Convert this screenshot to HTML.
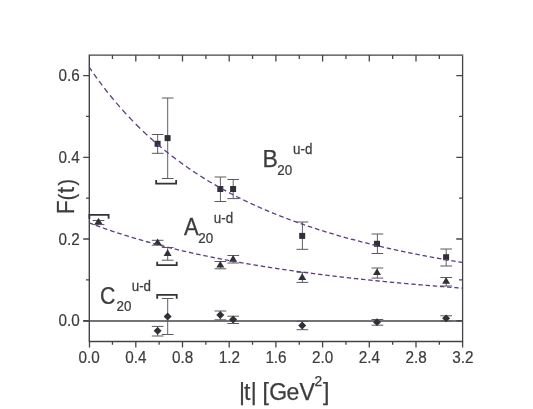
<!DOCTYPE html>
<html><head><meta charset="utf-8"><title>F(t)</title>
<style>html,body{margin:0;padding:0;background:#fff;}svg{display:block;will-change:transform;}text{font-family:"Liberation Sans",sans-serif;stroke:#3c3c3c;stroke-width:0.25px;}text.tl{stroke-width:0.2px;}</style>
</head><body>
<svg width="533" height="409" viewBox="0 0 533 409">
<rect x="0" y="0" width="533" height="409" fill="#ffffff"/>
<line x1="83.20" y1="320.96" x2="462.60" y2="320.96" stroke="#45454b" stroke-width="1.6"/>
<path d="M89.30 342.10V55.15H463.25" fill="none" stroke="#43434a" stroke-width="1.4" stroke-linejoin="miter"/>
<path d="M462.60 55.85V341.50H90.00" fill="none" stroke="#43434a" stroke-width="1.3" stroke-linejoin="miter"/>
<path d="M89.50 341.50V347.50M112.45 341.50V344.80M112.45 55.00V58.90M135.80 341.50V347.50M135.80 55.00V61.50M159.15 341.50V344.80M159.15 55.00V58.90M182.50 341.50V347.50M182.50 55.00V61.50M205.85 341.50V344.80M205.85 55.00V58.90M229.20 341.50V347.50M229.20 55.00V61.50M252.55 341.50V344.80M252.55 55.00V58.90M275.90 341.50V347.50M275.90 55.00V61.50M299.25 341.50V344.80M299.25 55.00V58.90M322.60 341.50V347.50M322.60 55.00V61.50M345.95 341.50V344.80M345.95 55.00V58.90M369.30 341.50V347.50M369.30 55.00V61.50M392.65 341.50V344.80M392.65 55.00V58.90M416.00 341.50V347.50M416.00 55.00V61.50M439.35 341.50V344.80M439.35 55.00V58.90M462.60 341.50V347.50M89.50 320.76H83.20M462.60 320.76H456.30M89.50 279.89H86.00M462.60 279.89H459.10M89.50 239.02H83.20M462.60 239.02H456.30M89.50 198.15H86.00M462.60 198.15H459.10M89.50 157.28H83.20M462.60 157.28H456.30M89.50 116.41H86.00M462.60 116.41H459.10M89.50 75.54H83.20M462.60 75.54H456.30" fill="none" stroke="#45454b" stroke-width="1.3"/>
<text class="tl" transform="translate(89.20 363.4) scale(0.915 1)" font-size="16.7" text-anchor="middle" fill="#3c3c3c">0.0</text>
<text class="tl" transform="translate(135.90 363.4) scale(0.915 1)" font-size="16.7" text-anchor="middle" fill="#3c3c3c">0.4</text>
<text class="tl" transform="translate(182.60 363.4) scale(0.915 1)" font-size="16.7" text-anchor="middle" fill="#3c3c3c">0.8</text>
<text class="tl" transform="translate(229.30 363.4) scale(0.915 1)" font-size="16.7" text-anchor="middle" fill="#3c3c3c">1.2</text>
<text class="tl" transform="translate(276.00 363.4) scale(0.915 1)" font-size="16.7" text-anchor="middle" fill="#3c3c3c">1.6</text>
<text class="tl" transform="translate(322.70 363.4) scale(0.915 1)" font-size="16.7" text-anchor="middle" fill="#3c3c3c">2.0</text>
<text class="tl" transform="translate(369.40 363.4) scale(0.915 1)" font-size="16.7" text-anchor="middle" fill="#3c3c3c">2.4</text>
<text class="tl" transform="translate(416.10 363.4) scale(0.915 1)" font-size="16.7" text-anchor="middle" fill="#3c3c3c">2.8</text>
<text class="tl" transform="translate(462.80 363.4) scale(0.915 1)" font-size="16.7" text-anchor="middle" fill="#3c3c3c">3.2</text>
<text class="tl" transform="translate(79.7 326.41) scale(0.915 1)" font-size="16.7" text-anchor="end" fill="#3c3c3c">0.0</text>
<text class="tl" transform="translate(79.7 244.67) scale(0.915 1)" font-size="16.7" text-anchor="end" fill="#3c3c3c">0.2</text>
<text class="tl" transform="translate(79.7 162.93) scale(0.915 1)" font-size="16.7" text-anchor="end" fill="#3c3c3c">0.4</text>
<text class="tl" transform="translate(79.7 81.19) scale(0.915 1)" font-size="16.7" text-anchor="end" fill="#3c3c3c">0.6</text>
<line x1="157.65" y1="134.50" x2="157.65" y2="153.30" stroke="#626266" stroke-width="1"/><line x1="151.80" y1="134.50" x2="163.50" y2="134.50" stroke="#5a5a5e" stroke-width="1"/><line x1="151.80" y1="153.30" x2="163.50" y2="153.30" stroke="#5a5a5e" stroke-width="1"/>
<rect x="154.60" y="140.80" width="6" height="6" fill="#303038"/>
<line x1="167.70" y1="98.00" x2="167.70" y2="178.50" stroke="#626266" stroke-width="1"/><line x1="161.85" y1="98.00" x2="173.55" y2="98.00" stroke="#5a5a5e" stroke-width="1"/><line x1="161.85" y1="178.50" x2="173.55" y2="178.50" stroke="#5a5a5e" stroke-width="1"/>
<rect x="164.60" y="135.10" width="6" height="6" fill="#303038"/>
<line x1="220.40" y1="177.00" x2="220.40" y2="201.50" stroke="#626266" stroke-width="1"/><line x1="214.55" y1="177.00" x2="226.25" y2="177.00" stroke="#5a5a5e" stroke-width="1"/><line x1="214.55" y1="201.50" x2="226.25" y2="201.50" stroke="#5a5a5e" stroke-width="1"/>
<rect x="217.30" y="186.00" width="6" height="6" fill="#303038"/>
<line x1="233.20" y1="179.50" x2="233.20" y2="198.60" stroke="#626266" stroke-width="1"/><line x1="227.35" y1="179.50" x2="239.05" y2="179.50" stroke="#5a5a5e" stroke-width="1"/><line x1="227.35" y1="198.60" x2="239.05" y2="198.60" stroke="#5a5a5e" stroke-width="1"/>
<rect x="230.10" y="186.00" width="6" height="6" fill="#303038"/>
<line x1="302.40" y1="222.00" x2="302.40" y2="249.30" stroke="#626266" stroke-width="1"/><line x1="296.55" y1="222.00" x2="308.25" y2="222.00" stroke="#5a5a5e" stroke-width="1"/><line x1="296.55" y1="249.30" x2="308.25" y2="249.30" stroke="#5a5a5e" stroke-width="1"/>
<rect x="299.20" y="232.90" width="6" height="6" fill="#303038"/>
<line x1="377.40" y1="234.00" x2="377.40" y2="253.50" stroke="#626266" stroke-width="1"/><line x1="371.55" y1="234.00" x2="383.25" y2="234.00" stroke="#5a5a5e" stroke-width="1"/><line x1="371.55" y1="253.50" x2="383.25" y2="253.50" stroke="#5a5a5e" stroke-width="1"/>
<rect x="374.00" y="240.80" width="6" height="6" fill="#303038"/>
<line x1="446.20" y1="249.00" x2="446.20" y2="266.00" stroke="#626266" stroke-width="1"/><line x1="440.35" y1="249.00" x2="452.05" y2="249.00" stroke="#5a5a5e" stroke-width="1"/><line x1="440.35" y1="266.00" x2="452.05" y2="266.00" stroke="#5a5a5e" stroke-width="1"/>
<rect x="443.10" y="254.20" width="6" height="6" fill="#303038"/>
<line x1="98.50" y1="220.50" x2="98.50" y2="224.60" stroke="#626266" stroke-width="1"/><line x1="92.65" y1="220.50" x2="104.35" y2="220.50" stroke="#5a5a5e" stroke-width="1"/><line x1="92.65" y1="224.60" x2="104.35" y2="224.60" stroke="#5a5a5e" stroke-width="1"/>
<path d="M98.50 217.70L102.50 224.30L94.50 224.30Z" fill="#303038"/>
<line x1="157.65" y1="240.30" x2="157.65" y2="245.20" stroke="#626266" stroke-width="1"/><line x1="151.80" y1="240.30" x2="163.50" y2="240.30" stroke="#5a5a5e" stroke-width="1"/><line x1="151.80" y1="245.20" x2="163.50" y2="245.20" stroke="#5a5a5e" stroke-width="1"/>
<path d="M157.60 238.50L161.60 245.10L153.60 245.10Z" fill="#303038"/>
<line x1="167.70" y1="247.50" x2="167.70" y2="260.20" stroke="#626266" stroke-width="1"/><line x1="161.85" y1="247.50" x2="173.55" y2="247.50" stroke="#5a5a5e" stroke-width="1"/><line x1="161.85" y1="260.20" x2="173.55" y2="260.20" stroke="#5a5a5e" stroke-width="1"/>
<path d="M167.60 249.30L171.60 255.90L163.60 255.90Z" fill="#303038"/>
<line x1="220.40" y1="261.50" x2="220.40" y2="268.80" stroke="#626266" stroke-width="1"/><line x1="214.55" y1="261.50" x2="226.25" y2="261.50" stroke="#5a5a5e" stroke-width="1"/><line x1="214.55" y1="268.80" x2="226.25" y2="268.80" stroke="#5a5a5e" stroke-width="1"/>
<path d="M220.30 261.00L224.30 267.60L216.30 267.60Z" fill="#303038"/>
<line x1="233.20" y1="255.50" x2="233.20" y2="263.00" stroke="#626266" stroke-width="1"/><line x1="227.35" y1="255.50" x2="239.05" y2="255.50" stroke="#5a5a5e" stroke-width="1"/><line x1="227.35" y1="263.00" x2="239.05" y2="263.00" stroke="#5a5a5e" stroke-width="1"/>
<path d="M233.10 255.10L237.10 261.70L229.10 261.70Z" fill="#303038"/>
<line x1="302.40" y1="272.30" x2="302.40" y2="282.40" stroke="#626266" stroke-width="1"/><line x1="296.55" y1="272.30" x2="308.25" y2="272.30" stroke="#5a5a5e" stroke-width="1"/><line x1="296.55" y1="282.40" x2="308.25" y2="282.40" stroke="#5a5a5e" stroke-width="1"/>
<path d="M302.20 273.30L306.20 279.90L298.20 279.90Z" fill="#303038"/>
<line x1="377.40" y1="268.00" x2="377.40" y2="278.10" stroke="#626266" stroke-width="1"/><line x1="371.55" y1="268.00" x2="383.25" y2="268.00" stroke="#5a5a5e" stroke-width="1"/><line x1="371.55" y1="278.10" x2="383.25" y2="278.10" stroke="#5a5a5e" stroke-width="1"/>
<path d="M377.00 268.50L381.00 275.10L373.00 275.10Z" fill="#303038"/>
<line x1="446.20" y1="277.50" x2="446.20" y2="286.00" stroke="#626266" stroke-width="1"/><line x1="440.35" y1="277.50" x2="452.05" y2="277.50" stroke="#5a5a5e" stroke-width="1"/><line x1="440.35" y1="286.00" x2="452.05" y2="286.00" stroke="#5a5a5e" stroke-width="1"/>
<path d="M446.10 277.20L450.10 283.80L442.10 283.80Z" fill="#303038"/>
<line x1="157.65" y1="326.40" x2="157.65" y2="336.00" stroke="#626266" stroke-width="1"/><line x1="151.80" y1="326.40" x2="163.50" y2="326.40" stroke="#5a5a5e" stroke-width="1"/><line x1="151.80" y1="336.00" x2="163.50" y2="336.00" stroke="#5a5a5e" stroke-width="1"/>
<path d="M157.60 326.90L161.60 330.80L157.60 334.70L153.60 330.80Z" fill="#303038"/>
<line x1="167.70" y1="298.50" x2="167.70" y2="334.50" stroke="#626266" stroke-width="1"/><line x1="161.85" y1="298.50" x2="173.55" y2="298.50" stroke="#5a5a5e" stroke-width="1"/><line x1="161.85" y1="334.50" x2="173.55" y2="334.50" stroke="#5a5a5e" stroke-width="1"/>
<path d="M167.60 312.60L171.60 316.50L167.60 320.40L163.60 316.50Z" fill="#303038"/>
<line x1="220.40" y1="311.00" x2="220.40" y2="319.80" stroke="#626266" stroke-width="1"/><line x1="214.55" y1="311.00" x2="226.25" y2="311.00" stroke="#5a5a5e" stroke-width="1"/><line x1="214.55" y1="319.80" x2="226.25" y2="319.80" stroke="#5a5a5e" stroke-width="1"/>
<path d="M220.30 311.10L224.30 315.00L220.30 318.90L216.30 315.00Z" fill="#303038"/>
<line x1="233.20" y1="316.20" x2="233.20" y2="323.50" stroke="#626266" stroke-width="1"/><line x1="227.35" y1="316.20" x2="239.05" y2="316.20" stroke="#5a5a5e" stroke-width="1"/><line x1="227.35" y1="323.50" x2="239.05" y2="323.50" stroke="#5a5a5e" stroke-width="1"/>
<path d="M233.10 315.60L237.10 319.50L233.10 323.40L229.10 319.50Z" fill="#303038"/>
<line x1="302.40" y1="321.20" x2="302.40" y2="329.70" stroke="#626266" stroke-width="1"/><line x1="296.55" y1="321.20" x2="308.25" y2="321.20" stroke="#5a5a5e" stroke-width="1"/><line x1="296.55" y1="329.70" x2="308.25" y2="329.70" stroke="#5a5a5e" stroke-width="1"/>
<path d="M302.20 321.60L306.20 325.50L302.20 329.40L298.20 325.50Z" fill="#303038"/>
<line x1="377.40" y1="319.50" x2="377.40" y2="325.20" stroke="#626266" stroke-width="1"/><line x1="371.55" y1="319.50" x2="383.25" y2="319.50" stroke="#5a5a5e" stroke-width="1"/><line x1="371.55" y1="325.20" x2="383.25" y2="325.20" stroke="#5a5a5e" stroke-width="1"/>
<path d="M377.00 318.30L381.00 322.20L377.00 326.10L373.00 322.20Z" fill="#303038"/>
<line x1="446.20" y1="315.80" x2="446.20" y2="320.90" stroke="#626266" stroke-width="1"/><line x1="440.35" y1="315.80" x2="452.05" y2="315.80" stroke="#5a5a5e" stroke-width="1"/><line x1="440.35" y1="320.90" x2="452.05" y2="320.90" stroke="#5a5a5e" stroke-width="1"/>
<path d="M446.10 314.40L450.10 318.30L446.10 322.20L442.10 318.30Z" fill="#303038"/>
<path d="M156.15 180.10V183.70H176.15V180.10" fill="none" stroke="#333338" stroke-width="1.8"/>
<path d="M89.40 218.70V214.90H108.60V218.70" fill="none" stroke="#333338" stroke-width="1.8"/>
<path d="M157.20 261.80V265.20H176.70V261.80" fill="none" stroke="#333338" stroke-width="1.8"/>
<path d="M157.20 298.80V294.90H176.70V298.80" fill="none" stroke="#333338" stroke-width="1.8"/>
<path d="M89.50 67.61L90.10 68.49L90.70 69.36L91.30 70.24L91.90 71.11M93.84 73.88L94.46 74.76L95.09 75.64L95.72 76.52L96.35 77.40L96.99 78.28M99.01 81.05L99.66 81.93L100.32 82.81L100.97 83.69L101.63 84.57L102.30 85.45M104.42 88.22L105.10 89.10L105.78 89.98L106.47 90.86L107.17 91.74L107.86 92.62M110.08 95.39L110.80 96.27L111.51 97.15L112.24 98.03L112.96 98.91L113.69 99.79M116.02 102.56L116.77 103.44L117.53 104.32L118.29 105.20L119.05 106.08L119.82 106.96M122.26 109.73L123.05 110.61L123.85 111.49L124.64 112.37L125.45 113.25L126.25 114.13M128.83 116.90L129.66 117.78L130.50 118.66L131.34 119.54L132.18 120.42L133.04 121.30M135.76 124.07L136.63 124.95L137.51 125.83L138.39 126.70L139.27 127.57L140.15 128.43M142.92 131.10L143.80 131.94L144.68 132.77L145.56 133.60L146.44 134.42L147.32 135.23M150.09 137.76L150.97 138.56L151.85 139.35L152.73 140.13L153.61 140.91L154.49 141.68M157.26 144.08L158.14 144.84L159.02 145.58L159.90 146.33L160.78 147.07L161.66 147.80M164.43 150.08L165.31 150.79L166.19 151.50L167.07 152.21L167.95 152.91L168.83 153.61M171.60 155.78L172.48 156.45L173.36 157.13L174.24 157.80L175.12 158.47L176.00 159.13M178.77 161.19L179.65 161.84L180.53 162.48L181.41 163.12L182.29 163.75L183.17 164.38M185.94 166.34L186.82 166.96L187.70 167.57L188.58 168.18L189.46 168.78L190.34 169.38M193.11 171.25L193.99 171.84L194.87 172.42L195.75 173.00L196.63 173.58L197.51 174.15M200.28 175.93L201.16 176.49L202.04 177.05L202.92 177.60L203.80 178.15L204.68 178.69M207.45 180.39L208.33 180.93L209.21 181.46L210.09 181.98L210.97 182.51L211.85 183.03M214.62 184.65L215.50 185.16L216.38 185.67L217.26 186.17L218.14 186.67L219.02 187.17M221.79 188.72L222.67 189.20L223.55 189.69L224.43 190.17L225.31 190.65L226.19 191.12M228.96 192.61L229.84 193.07L230.72 193.53L231.60 193.99L232.48 194.45L233.36 194.91M236.13 196.32L237.01 196.77L237.89 197.21L238.77 197.65L239.65 198.09L240.53 198.53M243.30 199.88L244.18 200.31L245.06 200.73L245.94 201.16L246.82 201.57L247.70 201.99M250.47 203.29L251.35 203.70L252.23 204.11L253.11 204.51L253.99 204.91L254.87 205.31M257.64 206.56L258.52 206.95L259.40 207.34L260.28 207.73L261.16 208.11L262.04 208.50M264.81 209.69L265.69 210.07L266.57 210.44L267.45 210.81L268.33 211.18L269.21 211.55M271.98 212.70L272.86 213.06L273.74 213.41L274.62 213.77L275.50 214.13L276.38 214.48M279.15 215.58L280.03 215.93L280.91 216.27L281.79 216.61L282.67 216.95L283.55 217.29M286.32 218.35L287.20 218.68L288.08 219.01L288.96 219.34L289.84 219.67L290.72 220.00M293.49 221.01L294.37 221.33L295.25 221.65L296.13 221.97L297.01 222.28L297.89 222.60M300.66 223.57L301.54 223.88L302.42 224.19L303.30 224.49L304.18 224.79L305.06 225.10M307.83 226.04L308.71 226.33L309.59 226.63L310.47 226.92L311.35 227.21L312.23 227.50M315.00 228.41L315.88 228.69L316.76 228.97L317.64 229.26L318.52 229.54L319.40 229.82M322.17 230.69L323.05 230.96L323.93 231.24L324.81 231.51L325.69 231.78L326.57 232.05M329.34 232.89L330.22 233.15L331.10 233.42L331.98 233.68L332.86 233.94L333.74 234.20M336.51 235.01L337.39 235.26L338.27 235.52L339.15 235.77L340.03 236.02L340.91 236.27M343.68 237.05L344.56 237.30L345.44 237.54L346.32 237.78L347.20 238.03L348.08 238.27M350.85 239.02L351.73 239.26L352.61 239.50L353.49 239.73L354.37 239.96L355.25 240.20M358.02 240.92L358.90 241.15L359.78 241.38L360.66 241.61L361.54 241.83L362.42 242.06M365.19 242.76L366.07 242.98L366.95 243.20L367.83 243.42L368.71 243.64L369.59 243.86M372.36 244.54L373.24 244.75L374.12 244.96L375.00 245.17L375.88 245.38L376.76 245.59M379.53 246.25L380.41 246.46L381.29 246.66L382.17 246.87L383.05 247.07L383.93 247.27M386.70 247.91L387.58 248.11L388.46 248.31L389.34 248.50L390.22 248.70L391.10 248.90M393.87 249.51L394.75 249.70L395.63 249.89L396.51 250.09L397.39 250.28L398.27 250.47M401.04 251.06L401.92 251.25L402.80 251.43L403.68 251.62L404.56 251.80L405.44 251.99M408.21 252.56L409.09 252.74L409.97 252.92L410.85 253.10L411.73 253.28L412.61 253.46M415.38 254.01L416.26 254.19L417.14 254.36L418.02 254.54L418.90 254.71L419.78 254.88M422.55 255.42L423.43 255.59L424.31 255.76L425.19 255.93L426.07 256.09L426.95 256.26M429.72 256.78L430.60 256.95L431.48 257.11L432.36 257.27L433.24 257.43L434.12 257.60M436.89 258.10L437.77 258.26L438.65 258.42L439.53 258.58L440.41 258.73L441.29 258.89M444.06 259.38L444.94 259.54L445.82 259.69L446.70 259.84L447.58 259.99L448.46 260.15M451.23 260.62L452.11 260.77L452.99 260.92L453.87 261.07L454.75 261.22L455.63 261.36M458.40 261.83L459.24 261.96L460.08 262.10L460.92 262.24L461.76 262.38L462.60 262.51" fill="none" stroke="#5d3d85" stroke-width="1.30"/>
<path d="M89.50 222.96L90.38 223.29L91.25 223.63L92.12 223.96L93.00 224.29M95.77 225.32L96.65 225.65L97.53 225.97L98.41 226.29L99.29 226.61L100.17 226.93M102.94 227.92L103.82 228.24L104.70 228.55L105.58 228.85L106.46 229.16L107.34 229.47M110.11 230.42L110.99 230.72L111.87 231.02L112.75 231.31L113.63 231.61L114.51 231.90M117.28 232.82L118.16 233.10L119.04 233.39L119.92 233.67L120.80 233.96L121.68 234.24M124.45 235.12L125.33 235.40L126.21 235.67L127.09 235.94L127.97 236.22L128.85 236.49M131.62 237.33L132.50 237.60L133.38 237.86L134.26 238.13L135.14 238.39L136.02 238.65M138.79 239.46L139.67 239.72L140.55 239.97L141.43 240.22L142.31 240.48L143.19 240.73M145.96 241.51L146.84 241.75L147.72 242.00L148.60 242.24L149.48 242.49L150.36 242.73M153.13 243.48L154.01 243.72L154.89 243.95L155.77 244.19L156.65 244.42L157.53 244.65M160.30 245.38L161.18 245.61L162.06 245.83L162.94 246.06L163.82 246.29L164.70 246.51M167.47 247.21L168.35 247.43L169.23 247.65L170.11 247.87L170.99 248.08L171.87 248.30M174.64 248.97L175.52 249.19L176.40 249.40L177.28 249.61L178.16 249.82L179.04 250.02M181.81 250.67L182.69 250.88L183.57 251.08L184.45 251.29L185.33 251.49L186.21 251.69M188.98 252.32L189.86 252.51L190.74 252.71L191.62 252.91L192.50 253.10L193.38 253.29M196.15 253.90L197.03 254.09L197.91 254.28L198.79 254.47L199.67 254.66L200.55 254.85M203.32 255.43L204.20 255.61L205.08 255.80L205.96 255.98L206.84 256.16L207.72 256.34M210.49 256.91L211.37 257.09L212.25 257.26L213.13 257.44L214.01 257.62L214.89 257.79M217.66 258.34L218.54 258.51L219.42 258.68L220.30 258.85L221.18 259.02L222.06 259.19M224.83 259.72L225.71 259.88L226.59 260.05L227.47 260.22L228.35 260.38L229.23 260.54M232.00 261.05L232.88 261.22L233.76 261.38L234.64 261.54L235.52 261.69L236.40 261.85M239.17 262.35L240.05 262.50L240.93 262.66L241.81 262.81L242.69 262.97L243.57 263.12M246.34 263.60L247.22 263.75L248.10 263.90L248.98 264.05L249.86 264.20L250.74 264.35M253.51 264.81L254.39 264.95L255.27 265.10L256.15 265.25L257.03 265.39L257.91 265.53M260.68 265.98L261.56 266.12L262.44 266.26L263.32 266.40L264.20 266.54L265.08 266.68M267.85 267.12L268.73 267.26L269.61 267.39L270.49 267.53L271.37 267.66L272.25 267.80M275.02 268.22L275.90 268.35L276.78 268.49L277.66 268.62L278.54 268.75L279.42 268.88M282.19 269.29L283.07 269.42L283.95 269.55L284.83 269.67L285.71 269.80L286.59 269.93M289.36 270.32L290.24 270.45L291.12 270.57L292.00 270.70L292.88 270.82L293.76 270.94M296.53 271.33L297.41 271.45L298.29 271.57L299.17 271.69L300.05 271.81L300.93 271.93M303.70 272.30L304.58 272.42L305.46 272.54L306.34 272.66L307.22 272.77L308.10 272.89M310.87 273.25L311.75 273.36L312.63 273.48L313.51 273.59L314.39 273.70L315.27 273.82M318.04 274.17L318.92 274.28L319.80 274.39L320.68 274.50L321.56 274.61L322.44 274.72M325.21 275.06L326.09 275.17L326.97 275.28L327.85 275.38L328.73 275.49L329.61 275.60M332.38 275.93L333.26 276.03L334.14 276.14L335.02 276.24L335.90 276.35L336.78 276.45M339.55 276.77L340.43 276.87L341.31 276.98L342.19 277.08L343.07 277.18L343.95 277.28M346.72 277.59L347.60 277.69L348.48 277.79L349.36 277.89L350.24 277.98L351.12 278.08M353.89 278.39L354.77 278.48L355.65 278.58L356.53 278.68L357.41 278.77L358.29 278.87M361.06 279.16L361.94 279.26L362.82 279.35L363.70 279.44L364.58 279.53L365.46 279.63M368.23 279.92L369.11 280.01L369.99 280.10L370.87 280.19L371.75 280.28L372.63 280.37M375.40 280.65L376.28 280.74L377.16 280.83L378.04 280.91L378.92 281.00L379.80 281.09M382.57 281.36L383.45 281.45L384.33 281.54L385.21 281.62L386.09 281.71L386.97 281.79M389.74 282.06L390.62 282.14L391.50 282.23L392.38 282.31L393.26 282.39L394.14 282.48M396.91 282.73L397.79 282.82L398.67 282.90L399.55 282.98L400.43 283.06L401.31 283.14M404.08 283.39L404.96 283.47L405.84 283.55L406.72 283.63L407.60 283.71L408.48 283.79M411.25 284.04L412.13 284.11L413.01 284.19L413.89 284.27L414.77 284.35L415.65 284.42M418.42 284.66L419.30 284.74L420.18 284.81L421.06 284.89L421.94 284.96L422.82 285.04M425.59 285.27L426.47 285.35L427.35 285.42L428.23 285.49L429.11 285.57L429.99 285.64M432.76 285.87L433.64 285.94L434.52 286.01L435.40 286.08L436.28 286.15L437.16 286.22M439.93 286.45L440.81 286.52L441.69 286.59L442.57 286.66L443.45 286.72L444.33 286.79M447.10 287.01L447.98 287.08L448.86 287.15L449.74 287.22L450.62 287.28L451.50 287.35M454.27 287.56L455.15 287.63L456.03 287.70L456.91 287.76L457.79 287.83L458.67 287.89M461.44 288.10L462.60 288.19" fill="none" stroke="#5d3d85" stroke-width="1.30"/>
<text transform="translate(262.50 166.80) scale(1.000 1)" font-size="23" fill="#3c3c3c">B</text><text transform="translate(277.30 174.90) scale(0.925 1)" font-size="14.5" fill="#3c3c3c">20</text><text transform="translate(293.00 154.10) scale(0.95 1)" font-size="14.1" fill="#3c3c3c">u-d</text>
<text transform="translate(183.90 235.40) scale(0.960 1)" font-size="23" fill="#3c3c3c">A</text><text transform="translate(198.20 242.70) scale(0.925 1)" font-size="14.5" fill="#3c3c3c">20</text><text transform="translate(213.80 222.60) scale(0.95 1)" font-size="14.1" fill="#3c3c3c">u-d</text>
<text transform="translate(99.90 304.00) scale(0.925 1)" font-size="23" fill="#3c3c3c">C</text><text transform="translate(116.60 310.80) scale(0.925 1)" font-size="14.5" fill="#3c3c3c">20</text><text transform="translate(131.70 290.60) scale(0.95 1)" font-size="14.1" fill="#3c3c3c">u-d</text>
<text transform="translate(73.90 214.2) rotate(-90)" font-size="23" fill="#3c3c3c">F</text>
<text transform="translate(73.90 200.3) rotate(-90) scale(0.84 0.975)" font-size="23" fill="#3c3c3c">(</text>
<text transform="translate(73.90 193.35) rotate(-90)" font-size="23" fill="#3c3c3c">t</text>
<text transform="translate(73.90 185.6) rotate(-90) scale(0.84 0.975)" font-size="23" fill="#3c3c3c">)</text>
<text y="399.5" font-size="23" fill="#3c3c3c" x="239.0 244.1 250.65 257 262.4 269.3 286.5 299.45">|t| [GeV</text>
<text x="314.45" y="386.45" font-size="13.8" fill="#3c3c3c">2</text>
<text x="322.9" y="399.5" font-size="23" fill="#3c3c3c">]</text>
</svg></body></html>
